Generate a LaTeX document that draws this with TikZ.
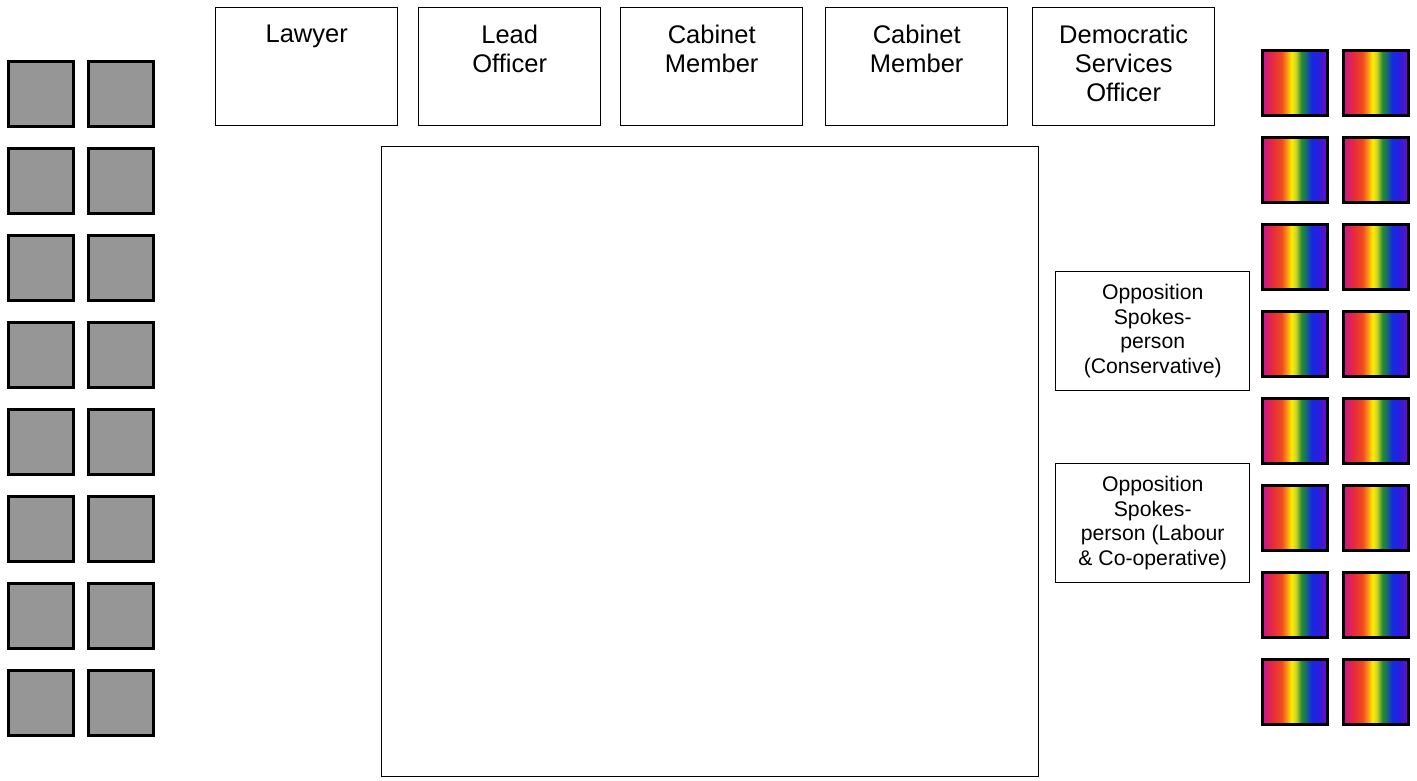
\documentclass[tikz,border=0pt]{standalone}
\usepackage{fontspec}
\setmainfont{Liberation Sans}
\pgfdeclarehorizontalshading{rainbow}{100bp}{%
rgb(0bp)=(0.78,0.08,0.60);
rgb(25bp)=(0.78,0.08,0.60);
rgb(31bp)=(0.88,0.14,0.30);
rgb(35bp)=(0.92,0.20,0.20);
rgb(40bp)=(0.94,0.30,0.12);
rgb(44bp)=(0.98,0.60,0.08);
rgb(47.5bp)=(1.00,0.94,0.00);
rgb(51bp)=(0.78,0.82,0.16);
rgb(55bp)=(0.16,0.55,0.20);
rgb(59bp)=(0.08,0.40,0.47);
rgb(62.5bp)=(0.08,0.16,0.90);
rgb(68bp)=(0.16,0.12,0.86);
rgb(75bp)=(0.45,0.04,0.75);
rgb(100bp)=(0.45,0.04,0.75)}
\definecolor{seatgray}{RGB}{150,150,150}
\tikzset{
  topbox/.style={draw=black, line width=1.4pt, fill=white, anchor=north west, inner sep=0pt, minimum height=118pt},
  toplabel/.style={anchor=north, inner sep=0pt, align=center, font=\fontsize{25.5}{29}\selectfont},
  oppbox/.style={draw=black, line width=1.4pt, fill=white, anchor=north west, inner sep=0pt, minimum width=194pt, minimum height=119pt, align=center, font=\fontsize{21.2}{24.5}\selectfont},
  grayseat/.style={draw=black, line width=2.6pt, fill=seatgray, anchor=north west, inner sep=0pt, minimum size=65pt},
  rainseat/.style={draw=black, line width=2.6pt, shading=rainbow, anchor=north west, inner sep=0pt, minimum size=65pt},
  table/.style={draw=black, line width=1.4pt, anchor=north west, inner sep=0pt, minimum width=657pt, minimum height=630pt}
}
\begin{document}
\begin{tikzpicture}[x=1pt,y=-1pt]
\useasboundingbox (0,0) rectangle (1417,780);
% top boxes
\node[topbox, minimum width=182pt] (lawyer) at (215,7) {};
\node[topbox, minimum width=182pt] (lead) at (418,7) {};
\node[topbox, minimum width=182pt] (cab1) at (620,7) {};
\node[topbox, minimum width=182pt] (cab2) at (825,7) {};
\node[topbox, minimum width=182pt] (dso) at (1032,7) {};
\node[toplabel] (lawyerT) at ([yshift=-17.7pt]lawyer.north) {Lawyer};
\node[toplabel] (leadT) at ([yshift=-17.7pt]lead.north) {Lead\\Officer};
\node[toplabel] (cab1T) at ([yshift=-17.7pt]cab1.north) {Cabinet\\Member};
\node[toplabel] (cab2T) at ([yshift=-17.7pt]cab2.north) {Cabinet\\Member};
\node[toplabel] (dsoT) at ([yshift=-17.7pt]dso.north) {Democratic\\Services\\Officer};
% main table
\node[table] (main) at (381,146) {};
% opposition boxes
\node[oppbox] (oppcon) at (1055,271) {Opposition\\Spokes-\\person\\(Conservative)};
\node[oppbox] (opplab) at (1055,463) {Opposition\\Spokes-\\person (Labour\\\& Co-operative)};
% seats
\foreach \i in {0,...,7}{
  \node[grayseat] (gl\i) at (7,60+87*\i) {};
  \node[grayseat] (gr\i) at (87,60+87*\i) {};
  \node[rainseat] (rl\i) at (1261,49+87*\i) {};
  \node[rainseat] (rr\i) at (1342,49+87*\i) {};
}
\end{tikzpicture}
\end{document}
